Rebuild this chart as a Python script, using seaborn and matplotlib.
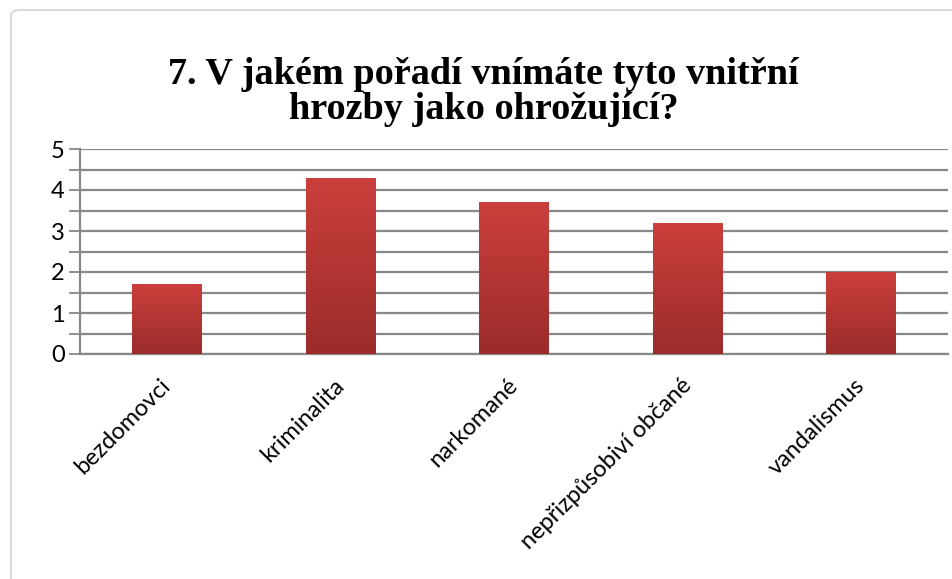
import numpy as np
import matplotlib
matplotlib.use('Agg')
import matplotlib.pyplot as plt
import matplotlib.transforms as mtransforms
import seaborn as sns
from matplotlib.patches import FancyBboxPatch
from matplotlib.colors import LinearSegmentedColormap
from matplotlib.ticker import MultipleLocator

categories = ['bezdomovci', 'kriminalita', 'narkomané', 'nepřizpůsobiví občané', 'vandalismus']
values = [1.7, 4.3, 3.7, 3.2, 2.0]
title = '7. V jakém pořadí vnímáte tyto vnitřní\nhrozby jako ohrožující?'

sns.set_style('white')
plt.rcParams['font.family'] = ['Lato', 'DejaVu Sans']

fig = plt.figure(figsize=(9.52, 5.79), dpi=100)
ax = fig.add_axes([80 / 952, 1 - 354 / 579, 868 / 952, 205 / 579])

# outer chart border
fig.patches.append(FancyBboxPatch((11 / 952, -0.2), 1.2, 1.2 - 10 / 579,
                                  boxstyle='round,pad=0,rounding_size=0.01',
                                  transform=fig.transFigure, fill=False,
                                  edgecolor='#d9d9d9', linewidth=1.5))

sns.barplot(x=categories, y=values, ax=ax, width=0.4, color='#b83532',
            edgecolor='none', zorder=3)

# vertical gradient on each bar
cmap = LinearSegmentedColormap.from_list('redgrad', ['#9b2c2b', '#cb3f3c'])
grad = np.linspace(0, 1, 256).reshape(-1, 1)
for p in ax.patches:
    x0, y0 = p.get_x(), p.get_y()
    w, h = p.get_width(), p.get_height()
    im = ax.imshow(grad, cmap=cmap, origin='lower', aspect='auto',
                   extent=[x0, x0 + w, y0, y0 + h], zorder=4)
    im.set_clip_path(p)

ax.set_xlim(-0.5, 4.5)
ax.set_ylim(0, 5)
ax.yaxis.set_major_locator(MultipleLocator(1))
ax.yaxis.set_minor_locator(MultipleLocator(0.5))
ax.grid(which='both', axis='y', color='#888888', linewidth=1.6, zorder=0)
ax.set_axisbelow(True)

ax.set_xticks(np.arange(-0.5, 5, 1), minor=True)
ax.tick_params(axis='x', which='major', length=0, pad=15, labelsize=17, labelcolor='black')
ax.tick_params(axis='x', which='minor', length=10, width=1.3, color='#888888', direction='out')
ax.tick_params(axis='y', which='both', length=8, width=1.3, color='#888888',
               direction='out', labelsize=17, pad=3, left=True, labelcolor='black')

shift = mtransforms.ScaledTranslation(-0.07, 0, fig.dpi_scale_trans)
for lab in ax.get_xticklabels():
    lab.set_rotation(45)
    lab.set_ha('right')
    lab.set_va('top')
    lab.set_rotation_mode('anchor')
    lab.set_transform(lab.get_transform() + shift)

for s in ['top', 'right']:
    ax.spines[s].set_visible(False)
for s in ['left', 'bottom']:
    ax.spines[s].set_color('#888888')
    ax.spines[s].set_linewidth(1.6)

fig.text(0.508, 1 - 92 / 579, title, ha='center', va='center', color='black',
         fontsize=27.5, fontweight='bold', family='Liberation Serif', linespacing=1.02)

fig.savefig('out.png', dpi=100)
